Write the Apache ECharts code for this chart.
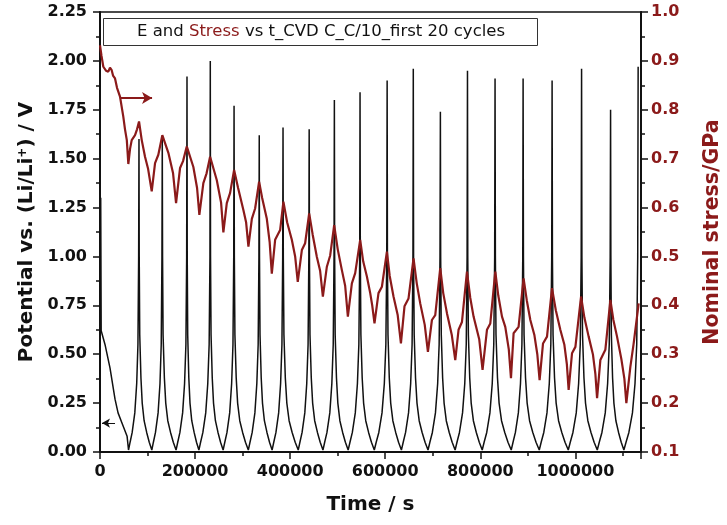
<!DOCTYPE html>
<html><head><meta charset="utf-8">
<script src="https://cdn.jsdelivr.net/npm/echarts@6/dist/echarts.min.js"></script>
<style>html,body{margin:0;padding:0;background:#fff}#c{width:727px;height:525px}</style>
</head><body><div id="c"></div>
<script>
// time in ks, potential in V
const potentialPoints = [
 [1.5,1.30],[2.5,0.62],[10.5,0.55],[21,0.43],[31.6,0.27],[38,0.20],[46,0.15],[57,0.08],
 [60,.01],[63.3,.05],[67.7,.10],[73.2,.20],[77.2,.35],[79.8,.55],[81.3,1.0],[82,1.60],
 [82.5,1.0],[83.6,.6],[86.1,.38],[88.8,.25],[92.8,.16],[98.2,.10],[103.6,.05],
 [109,.01],[112.3,.05],[116.7,.10],[122.2,.20],[126.2,.35],[128.8,.55],[130.3,1.0],[131,1.60],
 [131.6,1.0],[132.7,.6],[135.4,.38],[138.3,.25],[142.6,.16],[148.4,.10],[154.2,.05],
 [160,.01],[163.5,.05],[168.1,.10],[173.8,.20],[177.9,.35],[180.7,.55],[182.3,1.0],[183,1.92],
 [183.5,1.0],[184.5,.6],[186.8,.38],[189.3,.25],[193,.16],[198,.10],[203,.05],
 [208,.01],[211.6,.05],[216.4,.10],[222.4,.20],[226.7,.35],[229.6,.55],[231.3,1.0],[232,2.00],
 [232.5,1.0],[233.6,.6],[236.1,.38],[238.8,.25],[242.8,.16],[248.2,.10],[253.6,.05],
 [259,.01],[262.5,.05],[267.1,.10],[272.8,.20],[276.9,.35],[279.7,.55],[281.3,1.0],[282,1.77],
 [282.6,1.0],[283.8,.6],[286.5,.38],[289.5,.25],[294,.16],[300,.10],[306,.05],
 [312,.01],[315.5,.05],[320.1,.10],[325.8,.20],[329.9,.35],[332.7,.55],[334.3,1.0],[335,1.62],
 [335.5,1.0],[336.6,.6],[339.1,.38],[341.8,.25],[345.8,.16],[351.2,.10],[356.6,.05],
 [362,.01],[365.5,.05],[370.1,.10],[375.8,.20],[379.9,.35],[382.7,.55],[384.3,1.0],[385,1.66],
 [385.6,1.0],[386.9,.6],[389.8,.38],[393,.25],[397.8,.16],[404.2,.10],[410.6,.05],
 [417,.01],[420.5,.05],[425.1,.10],[430.8,.20],[434.9,.35],[437.7,.55],[439.3,1.0],[440,1.65],
 [440.6,1.0],[441.7,.6],[444.4,.38],[447.3,.25],[451.6,.16],[457.4,.10],[463.2,.05],
 [469,.01],[472.6,.05],[477.4,.10],[483.4,.20],[487.7,.35],[490.6,.55],[492.3,1.0],[493,1.80],
 [493.6,1.0],[494.7,.6],[497.4,.38],[500.3,.25],[504.6,.16],[510.4,.10],[516.2,.05],
 [522,.01],[525.8,.05],[530.8,.10],[537,.20],[541.5,.35],[544.5,.55],[546.3,1.0],[547,1.84],
 [547.6,1.0],[548.8,.6],[551.5,.38],[554.5,.25],[559,.16],[565,.10],[571,.05],
 [577,.01],[581,.05],[586.5,.10],[593.2,.20],[598.1,.35],[601.3,.55],[603.2,1.0],[604,1.90],
 [604.6,1.0],[605.8,.6],[608.5,.38],[611.5,.25],[616,.16],[622,.10],[628,.05],
 [634,.01],[637.8,.05],[642.8,.10],[649,.20],[653.5,.35],[656.5,.55],[658.3,1.0],[659,1.96],
 [659.6,1.0],[660.9,.6],[663.7,.38],[666.8,.25],[671.4,.16],[677.6,.10],[683.8,.05],
 [690,.01],[693.9,.05],[699.1,.10],[705.6,.20],[710.3,.35],[713.4,.55],[715.2,1.0],[716,1.74],
 [716.6,1.0],[717.9,.6],[720.7,.38],[723.8,.25],[728.4,.16],[734.6,.10],[740.8,.05],
 [747,.01],[750.9,.05],[756.1,.10],[762.6,.20],[767.3,.35],[770.4,.55],[772.2,1.0],[773,1.95],
 [773.6,1.0],[774.9,.6],[777.7,.38],[780.8,.25],[785.4,.16],[791.6,.10],[797.8,.05],
 [804,.01],[808,.05],[813.5,.10],[820.2,.20],[825.1,.35],[828.3,.55],[830.2,1.0],[831,1.91],
 [831.7,1.0],[833,.6],[836.1,.38],[839.5,.25],[844.6,.16],[851.4,.10],[858.2,.05],
 [865,.01],[868.8,.05],[873.8,.10],[880,.20],[884.5,.35],[887.5,.55],[889.3,1.0],[890,1.91],
 [890.7,1.0],[892,.6],[895.1,.38],[898.5,.25],[903.6,.16],[910.4,.10],[917.2,.05],
 [924,.01],[928,.05],[933.5,.10],[940.2,.20],[945.1,.35],[948.3,.55],[950.2,1.0],[951,1.90],
 [951.7,1.0],[953,.6],[956.1,.38],[959.5,.25],[964.6,.16],[971.4,.10],[978.2,.05],
 [985,.01],[989.2,.05],[994.8,.10],[1001.8,.20],[1006.8,.35],[1010.2,.55],[1012.2,1.0],[1013,1.96],
 [1013.7,1.0],[1015,.6],[1018,.38],[1021.3,.25],[1026.2,.16],[1032.8,.10],[1039.4,.05],
 [1046,.01],[1050.2,.05],[1055.8,.10],[1062.8,.20],[1067.8,.35],[1071.2,.55],[1073.2,1.0],[1074,1.75],
 [1074.6,1.0],[1075.7,.6],[1078.2,.38],[1081,.25],[1085.2,.16],[1090.8,.10],[1096.4,.05],
 [1102,.01],[1106.5,.05],[1112.5,.10],[1120,.20],[1125.4,.35],[1129,.55],[1131.1,1.0],[1132,1.97]
];
// time in ks, nominal stress in GPa
const stressPoints = [
 [0,.932],[3.2,.91],[7,.888],[12.6,.880],[17.5,.878],[21,.886],[24.6,.881],[27.4,.870],[31.6,.864],
 [35.8,.845],[42.1,.827],[49,.786],[52.6,.760],[56.4,.738],[59.6,.689],[63.2,.720],[66.7,.738],
 [73.7,.748],[77.9,.760],[82.1,.776],[87.8,.738],[94.7,.704],[101,.680],[108.8,.633],[115.8,.691],
 [122.7,.708],[131.1,.748],[143.8,.712],[153.7,.670],[160,.609],[168.4,.681],[174.7,.695],[182.5,.725],
 [196.4,.683],[204.2,.640],[209,.585],[217.4,.650],[224.2,.670],[231.6,.704],[245.7,.656],[254.7,.610],
 [259.5,.549],[266.7,.609],[273.7,.630],[282.1,.677],[290.5,.640],[301.6,.595],[307.3,.570],[312.2,.520],
 [319.4,.577],[326.3,.598],[334.7,.653],[341,.620],[350.9,.577],[356.8,.530],[361.4,.465],[368.4,.534],
 [378.9,.554],[385.8,.612],[393.6,.570],[403.5,.534],[410.5,.500],[416,.448],[424.6,.513],[431.5,.527],
 [440,.588],[447.3,.545],[456.2,.499],[463.1,.470],[468.8,.418],[477.2,.479],[484.2,.502],[492.6,.564],
 [500,.515],[508.8,.472],[515.7,.440],[521.4,.377],[529.8,.445],[536.8,.466],[547.3,.534],[553.6,.490],
 [561.4,.459],[568.4,.425],[572.6,.400],[577.4,.363],[585.8,.425],[593,.438],[603.5,.510],[609.4,.460],
 [617.4,.418],[626.2,.380],[633,.322],[640.5,.398],[649,.414],[659.5,.496],[666.3,.445],[673.6,.404],
 [683.1,.360],[689.8,.305],[698.2,.370],[705.2,.380],[715.7,.476],[722,.425],[729.8,.384],[739.9,.340],
 [747.3,.288],[754.2,.350],[761.4,.366],[771.9,.469],[778.9,.415],[785.8,.377],[797.8,.330],[804.7,.268],
 [814,.350],[821,.363],[831.5,.469],[837.8,.420],[845.6,.377],[852.5,.356],[859.9,.310],[864.5,.251],
 [870,.343],[880.5,.356],[891,.455],[897.8,.410],[905.2,.370],[913.6,.340],[919.9,.300],[924.7,.247],
 [931.9,.322],[940.3,.336],[950.8,.435],[958.8,.390],[968.3,.350],[976.7,.320],[982,.280],[985.8,.227],
 [992.9,.302],[1000,.315],[1011.9,.418],[1018.9,.375],[1027.9,.336],[1036.8,.300],[1042,.260],[1045.6,.210],
 [1052.5,.288],[1063,.309],[1073.6,.411],[1079.9,.370],[1087.6,.336],[1096.7,.290],[1103,.250],[1107.2,.200],
 [1115.6,.274],[1122.6,.322],[1133.1,.404]
];
const xRange = [0, 1138000];
const xInterval = 200000;
const leftRange = [0, 2.25];
const rightRange = [0.1, 1.0];
const stressArrow = [[42, 0.824], [109.5, 0.824]];
const potentialArrow = [[31.6, 0.148], [4.2, 0.148]];

const RED = '#8b1a1a';
const FONT = 'DejaVu Sans';
const toS = p => [p[0] * 1000, p[1]];

const chart = echarts.init(document.getElementById('c'), null, {renderer: 'canvas'});
const tickLabel = {fontFamily: FONT, fontWeight: 'bold', fontSize: 16, color: '#111'};
chart.setOption({
  animation: false,
  backgroundColor: '#fff',
  grid: {left: 100, right: 86, top: 12, bottom: 73, outerBoundsMode: 'none', containLabel: false,
         show: true, borderColor: '#111', borderWidth: 1.5, backgroundColor: 'transparent'},
  xAxis: {
    type: 'value', min: xRange[0], max: xRange[1], interval: xInterval,
    name: 'Time / s', nameLocation: 'middle', nameGap: 43,
    nameTextStyle: {fontFamily: FONT, fontWeight: 'bold', fontSize: 20, color: '#111'},
    axisLine: {lineStyle: {color: '#111', width: 2}},
    axisTick: {length: 7, lineStyle: {width: 1.5, color: '#111'}},
    minorTick: {show: true, splitNumber: 2, length: 4, lineStyle: {width: 1.5, color: '#111'}},
    splitLine: {show: false},
    axisLabel: Object.assign({margin: 12, showMaxLabel: false, formatter: v => String(v)}, tickLabel)
  },
  yAxis: [{
    type: 'value', min: leftRange[0], max: leftRange[1], interval: 0.25, position: 'left',
    name: 'Potential vs. (Li/Li{s|+}) / V', nameLocation: 'middle', nameGap: 63,
    nameTextStyle: {fontFamily: FONT, fontWeight: 'bold', fontSize: 20, color: '#111',
      rich: {s: {fontFamily: FONT, fontWeight: 'bold', fontSize: 12, color: '#111', verticalAlign: 'top', padding: [0,0,8,0]}}},
    axisLine: {show: true, lineStyle: {color: '#111', width: 2}},
    axisTick: {show: true, length: 7, lineStyle: {width: 1.5, color: '#111'}},
    minorTick: {show: true, splitNumber: 2, length: 4, lineStyle: {width: 1.5, color: '#111'}},
    splitLine: {show: false},
    axisLabel: Object.assign({margin: 13, formatter: v => v.toFixed(2)}, tickLabel)
  }, {
    type: 'value', min: rightRange[0], max: rightRange[1], interval: 0.1, position: 'right',
    name: 'Nominal stress/GPa', nameLocation: 'middle', nameGap: 61,
    nameTextStyle: {fontFamily: FONT, fontWeight: 'bold', fontSize: 20.5, color: RED},
    axisLine: {show: true, lineStyle: {color: '#111', width: 2}},
    axisTick: {show: true, length: 7, lineStyle: {width: 1.5, color: '#111'}},
    minorTick: {show: true, splitNumber: 2, length: 4, lineStyle: {width: 1.5, color: '#111'}},
    splitLine: {show: false},
    axisLabel: Object.assign({}, tickLabel, {margin: 10, color: RED, formatter: v => v.toFixed(1)})
  }],
  series: [{
    type: 'line', name: 'E', yAxisIndex: 0, showSymbol: false, symbol: 'none',
    data: potentialPoints.map(toS),
    lineStyle: {color: '#111', width: 1.5}, z: 2,
    markLine: {silent: true, symbol: ['none', 'arrow'], symbolSize: [7, 8], label: {show: false},
      lineStyle: {color: '#111', width: 1, type: 'solid'},
      data: [[{coord: toS(potentialArrow[0])}, {coord: toS(potentialArrow[1])}]]}
  }, {
    type: 'line', name: 'Stress', yAxisIndex: 1, showSymbol: false, symbol: 'none',
    data: stressPoints.map(toS),
    lineStyle: {color: RED, width: 2.2}, z: 3,
    markLine: {silent: true, symbol: ['none', 'arrow'], symbolSize: [9, 10], label: {show: false},
      lineStyle: {color: RED, width: 2, type: 'solid'},
      data: [[{coord: toS(stressArrow[0])}, {coord: toS(stressArrow[1])}]]}
  }],
  graphic: [
    {type: 'rect', left: 103, top: 18, z: 100, shape: {width: 434, height: 27},
     style: {fill: '#fff', stroke: '#333', lineWidth: 1}},
    {type: 'text', x: 321, y: 32, z: 101,
     style: {text: '{a|E and }{b|Stress}{a| vs t_CVD C_C/10_first 20 cycles}',
       align: 'center', verticalAlign: 'middle',
       rich: {a: {fontFamily: FONT, fontSize: 16.5, fill: '#111', color: '#111'},
              b: {fontFamily: FONT, fontSize: 16.5, fill: RED, color: RED}}}}
  ]
});
</script></body></html>
